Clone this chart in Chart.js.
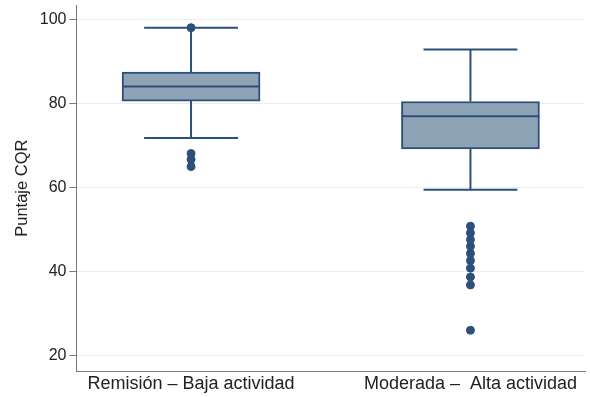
<!DOCTYPE html>
<html>
<head>
<meta charset="utf-8">
<script src="https://cdn.jsdelivr.net/npm/chart.js@4/dist/chart.umd.min.js"></script>
<style>
  html, body { margin: 0; padding: 0; background: #fff; }
  #wrap { width: 590px; height: 397px; }
</style>
</head>
<body>
<div id="wrap"><canvas id="chart" width="590" height="397"></canvas></div>
<script>
// groups and box statistics
const categories = ['Remisión – Baja actividad', 'Moderada –  Alta actividad'];
const positions = [1, 2];
const q1 = [80.6, 69.2];
const median = [84.1, 77.0];
const q3 = [87.5, 80.5];
const whiskerLow = [71.8, 59.5];
const whiskerHigh = [98.1, 92.9];
const outliers = [
  [98.1, 68.1, 66.7, 65.0],
  [50.8, 49.2, 47.6, 46.0, 44.3, 42.6, 40.8, 38.7, 36.8, 26.0]
];
const yTicks = [20, 40, 60, 80, 100];

const boxHalf = 0.247;
const capHalf = 0.168;
const dark = '#2d5079';
const fillCol = '#8fa3b6';

// whisker, cap and median segments (null breaks the line)
const segs = [];
const medSegs = [];
positions.forEach((c, i) => {
  segs.push({x: c, y: q3[i]}, {x: c, y: whiskerHigh[i]}, {x: c, y: null});
  segs.push({x: c, y: q1[i]}, {x: c, y: whiskerLow[i]}, {x: c, y: null});
  segs.push({x: c - capHalf, y: whiskerHigh[i]}, {x: c + capHalf, y: whiskerHigh[i]}, {x: c, y: null});
  segs.push({x: c - capHalf, y: whiskerLow[i]}, {x: c + capHalf, y: whiskerLow[i]}, {x: c, y: null});
  medSegs.push({x: c - boxHalf, y: median[i]}, {x: c + boxHalf, y: median[i]}, {x: c, y: null});
});
const outPts = [];
positions.forEach((c, i) => outliers[i].forEach(v => outPts.push({x: c, y: v})));

const family = '"Liberation Sans", Arial, Helvetica, sans-serif';

new Chart(document.getElementById('chart'), {
  type: 'bar',
  data: {
    datasets: [
      {
        type: 'bar',
        data: positions.map((c, i) => ({x: c, y: [q1[i], q3[i]]})),
        backgroundColor: fillCol,
        borderColor: dark,
        borderWidth: 2,
        borderSkipped: false,
        barThickness: 138,
        order: 3
      },
      {
        type: 'line',
        data: segs,
        borderColor: dark,
        borderWidth: 2,
        pointRadius: 0,
        spanGaps: false,
        fill: false,
        order: 2
      },
      {
        type: 'line',
        data: medSegs,
        borderColor: dark,
        borderWidth: 2,
        pointRadius: 0,
        spanGaps: false,
        fill: false,
        order: 1
      },
      {
        type: 'scatter',
        data: outPts,
        backgroundColor: dark,
        borderColor: dark,
        pointRadius: 4,
        order: 0
      }
    ]
  },
  options: {
    responsive: false,
    animation: false,
    layout: {padding: {top: 3, right: 4, left: 9, bottom: 0}},
    plugins: {legend: {display: false}, tooltip: {enabled: false}},
    scales: {
      x: {
        type: 'linear',
        offset: false,
        min: 0.59,
        max: 2.41,
        afterBuildTicks: axis => { axis.ticks = positions.map(v => ({value: v})); },
        ticks: {
          callback: (v) => categories[positions.indexOf(v)] || '',
          color: '#222',
          font: {family: family, size: 18},
          maxRotation: 0,
          autoSkip: false,
          padding: 2
        },
        grid: {display: false, drawTicks: false, offset: false},
        border: {display: true, color: '#7a7a7a', width: 1}
      },
      y: {
        type: 'linear',
        min: 16.2,
        max: 103.5,
        afterBuildTicks: axis => { axis.ticks = yTicks.map(v => ({value: v})); },
        afterFit: axis => { axis.paddingTop = 0; axis.paddingBottom = 0; },
        ticks: {color: '#222', font: {family: family, size: 16}, padding: 3},
        title: {display: true, text: 'Puntaje CQR', color: '#222', font: {family: family, size: 16.5}, padding: {top: 4, bottom: 4}},
        grid: {
          color: '#e7eef2',
          lineWidth: 1,
          drawTicks: true,
          tickLength: 7,
          tickColor: '#7a7a7a'
        },
        border: {display: true, color: '#7a7a7a', width: 1}
      }
    }
  }
});
</script>
</body>
</html>
